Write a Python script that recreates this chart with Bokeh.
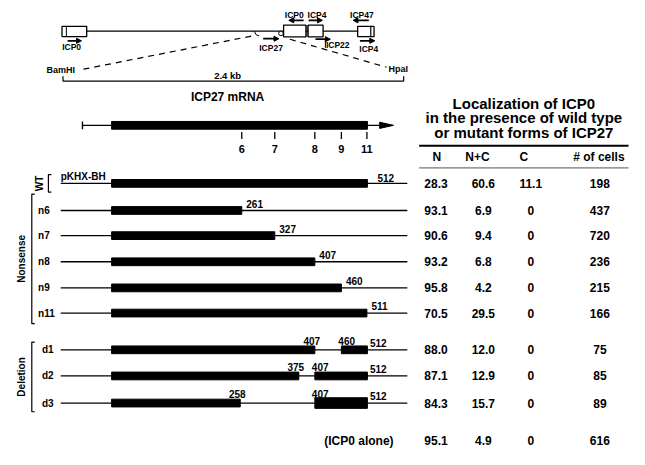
import math
from bokeh.plotting import figure
from bokeh.models import Range1d
from bokeh.core.properties import value
from bokeh.embed import file_html
from bokeh.resources import INLINE

# ---------------- data ----------------
constructs = ["pKHX-BH", "n6", "n7", "n8", "n9", "n11", "d1", "d2", "d3"]
row_labels = ["", "n6", "n7", "n8", "n9", "n11", "d1", "d2", "d3"]
# coding segments (amino acids) for each construct
seg_starts = [[1], [1], [1], [1], [1], [1], [1, 460], [1, 407], [1, 407]]
seg_ends = [[512], [261], [327], [407], [460], [511], [407, 512], [375, 512], [258, 512]]
nonsense_sites = [261, 327, 407, 460, 511]
nonsense_names = ["6", "7", "8", "9", "11"]

table_rows = ["pKHX-BH", "n6", "n7", "n8", "n9", "n11", "d1", "d2", "d3", "(ICP0 alone)"]
pct_N = [28.3, 93.1, 90.6, 93.2, 95.8, 70.5, 88.0, 87.1, 84.3, 95.1]
pct_NC = [60.6, 6.9, 9.4, 6.8, 4.2, 29.5, 12.0, 12.9, 15.7, 4.9]
pct_C = [11.1, 0, 0, 0, 0, 0, 0, 0, 0, 0]
n_cells = [198, 437, 720, 236, 215, 166, 75, 85, 89, 616]
headers = ["N", "N+C", "C", "# of cells"]
title_lines = ["Localization of ICP0", "in the presence of wild type", "or mutant forms of ICP27"]

# ---------------- layout ----------------
ROW_Y = [189, 217, 243, 270, 297, 323, 361, 388, 416, 455]
COL_X = [441, 489, 537, 607]
HEAD_X = [442, 483, 530, 606]
FONT = value("Liberation Sans")
AA0_PX, AA_SLOPE = 112.5, 0.507  # px of aa 1, px per aa

def aa_range_for(px0, px1):
    return (1 + (px0 - AA0_PX) / AA_SLOPE, 1 + (px1 - AA0_PX) / AA_SLOPE)

p = figure(width=629, height=449, x_range=Range1d(0, 637), y_range=Range1d(464, 0),
           output_backend="svg", toolbar_location=None, min_border=0)
p.axis.visible = False
p.grid.visible = False
p.outline_line_color = None
p.background_fill_color = "white"
a0, a1 = aa_range_for(0, 637)
p.extra_x_ranges = {"aa": Range1d(a0, a1)}

def txt(x, y, s, size="10px", align="center", baseline="middle", angle=0.0, rng="default"):
    p.text(x=[x], y=[y], text=[s], text_font=FONT, text_font_size=size,
           text_font_style="bold", text_align=align, text_baseline=baseline,
           angle=angle, text_color="black", x_range_name=rng)

def arrow(x0, x1, y, w=1.8, hl=5, hw=2.6):
    d = 1 if x1 > x0 else -1
    p.line([x0, x1 - d * hl], [y, y], line_color="black", line_width=w)
    p.patch([x1 - d * hl, x1, x1 - d * hl], [y - hw, y, y + hw], color="black")

# ---------------- top gene map ----------------
p.line([87, 362], [31.7, 31.7], line_color="black", line_width=1.2)
boxes = [(62.3, 87.3, 26.7, 37.3), (286.7, 309.3, 25.5, 37.5), (311.5, 326.7, 25.5, 37.5),
         (361.7, 378.3, 26.7, 37.3)]
for l, r, t, b in boxes:
    p.quad(left=l, right=r, top=t, bottom=b, fill_color="white", line_color="black", line_width=1.3)
p.line([66.7, 66.7], [26.7, 37.3], line_color="black", line_width=1)
p.line([375, 375], [26.7, 37.3], line_color="black", line_width=1.2)
p.line([310.4, 310.4], [25.5, 37.5], line_color="black", line_width=1)
p.line([257, 259, 262], [31.7, 35.5, 36.5], line_color="black", line_width=1)
p.circle(x=[284], y=[34], radius=2.3, fill_color="white", line_color="black", line_width=1)

arrow(68, 82, 41.7); txt(72, 48.5, "ICP0", "8.5px")
arrow(266, 282, 39.5); txt(274, 49, "ICP27", "8.5px")
txt(297.5, 15, "ICP0", "8.5px"); arrow(307, 292, 20.5)
txt(320.5, 15, "ICP4", "8.5px"); arrow(312, 326, 20.5)
txt(366, 15, "ICP47", "8.5px"); arrow(373, 357, 20.5)
arrow(319, 334, 40); txt(341.5, 46, "ICP22", "8.5px")
p.line([329, 329], [40, 49], line_color="black", line_width=1)
arrow(364, 379, 41.7); txt(373, 50.5, "ICP4", "8.5px")

p.line([84, 258], [71, 36], line_color="black", line_width=1.2, line_dash="6 5")
p.line([293, 391], [40, 69], line_color="black", line_width=1.2, line_dash="6 5")
txt(46.5, 71.5, "BamHI", "9px", align="left")
txt(393, 71, "HpaI", "9px", align="left")
p.line([63.3, 63.3, 408.3, 408.3], [78.3, 83.3, 83.3, 78.3], line_color="black", line_width=1.2)
txt(230, 77, "2.4 kb", "9.5px")
txt(230, 100, "ICP27 mRNA", "12px")

# ---------------- mRNA diagram ----------------
MY = 129
la, lb = aa_range_for(83, 384)
tip = aa_range_for(398, 398)[0]
p.line([la, lb], [MY, MY], line_color="black", line_width=1.4, x_range_name="aa")
p.line([la, la], [125, 133], line_color="black", line_width=1.4, x_range_name="aa")
p.patch([lb, tip, lb], [MY - 3.2, MY, MY + 3.2], color="black", x_range_name="aa")
p.hbar(y=[MY], left=[1], right=[512], height=8, color="black", x_range_name="aa")
p.segment(x0=nonsense_sites, x1=nonsense_sites, y0=[136] * 5, y1=[143] * 5,
          line_color="black", line_width=1.3, x_range_name="aa")
p.text(x=nonsense_sites, y=[153] * 5, text=nonsense_names, text_font=FONT, text_font_size="11px",
       text_font_style="bold", text_align="center", text_baseline="middle", x_range_name="aa")

# ---------------- constructs ----------------
L0, L1 = aa_range_for(61, 412)
for i, name in enumerate(constructs):
    y = ROW_Y[i]
    p.line([L0, L1], [y, y], line_color="black", line_width=1.3, x_range_name="aa")
    for s, e in zip(seg_starts[i], seg_ends[i]):
        h = 11 if (name == "d3" and s > 1) else 8
        p.hbar(y=[y], left=[s], right=[e], height=h, color="black", x_range_name="aa")
    if name == "pKHX-BH":
        txt(61, y - 7, "pKHX-BH", "10px", align="left")
        txt(seg_ends[i][-1] + 20, y - 1, str(seg_ends[i][-1]), "10px", align="left",
            baseline="bottom", rng="aa")
    elif name.startswith("n"):
        txt(38, y, row_labels[i], "10px", align="left")
        txt(seg_ends[i][-1] + 9, y - 3, str(seg_ends[i][-1]), "10px", align="left",
            baseline="bottom", rng="aa")
    else:
        txt(42, y, row_labels[i], "10px", align="left")
        txt(seg_ends[i][0] - 6, y - 5, str(seg_ends[i][0]), "10px", align="center",
            baseline="bottom", rng="aa")
        txt(seg_starts[i][1] - 6, y - 5, str(seg_starts[i][1]), "10px", align="left",
            baseline="bottom", rng="aa")
        txt(seg_ends[i][1] + 5, y - 3, str(seg_ends[i][1]), "10px", align="left",
            baseline="bottom", rng="aa")

# brackets
def bracket(x, y0, y1, serif=3):
    p.line([x + serif, x, x, x + serif], [y0, y0, y1, y1], line_color="black", line_width=1.2)

bracket(48.5, 180, 198)
txt(40, 189, "WT", "10px", angle=math.pi / 2)
bracket(31.7, 200, 334)
txt(21.5, 267, "Nonsense", "10px", angle=math.pi / 2)
bracket(31.7, 353, 425)
txt(21.5, 389, "Deletion", "10px", angle=math.pi / 2)

txt(363, ROW_Y[-1], "(ICP0 alone)", "12px")

# ---------------- table ----------------
for k, line in enumerate(title_lines):
    txt(530, 106 + 15 * k, line, "15px")
p.line([424, 636], [150, 150], line_color="black", line_width=2)
p.text(x=HEAD_X, y=[162] * 4, text=headers, text_font=FONT, text_font_size="12px",
       text_font_style="bold", text_align="center", text_baseline="middle")
p.line([424, 636], [173, 173], line_color="#555555", line_width=1)

def fmt(v):
    return "0" if v == 0 else f"{v:.1f}"

cols = [[fmt(v) for v in pct_N], [fmt(v) for v in pct_NC], [fmt(v) for v in pct_C],
        [str(v) for v in n_cells]]
for cx, col in zip(COL_X, cols):
    p.text(x=[cx] * len(col), y=ROW_Y, text=col, text_font=FONT, text_font_size="12px",
           text_font_style="bold", text_align="center", text_baseline="middle")

open("out.html", "w").write(file_html(p, INLINE))
